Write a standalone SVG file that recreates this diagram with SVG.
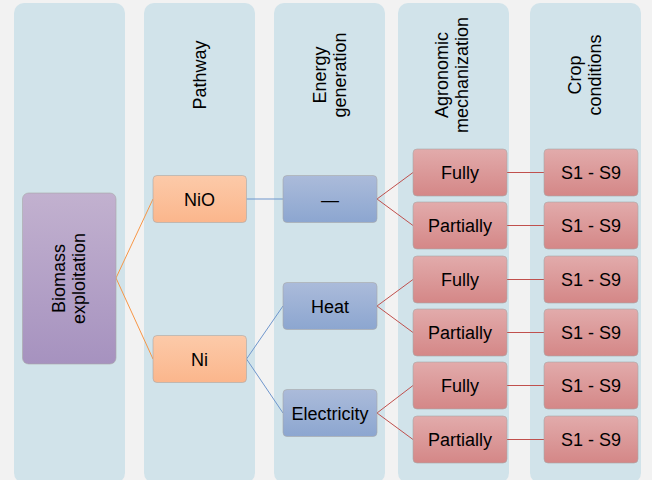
<svg xmlns="http://www.w3.org/2000/svg" width="652" height="480" viewBox="0 0 652 480">
<defs>
<linearGradient id="gP" x1="0" y1="0" x2="0" y2="1"><stop offset="0" stop-color="#c2b1cf"/><stop offset="1" stop-color="#a692bf"/></linearGradient>
<linearGradient id="gO" x1="0" y1="0" x2="0" y2="1"><stop offset="0" stop-color="#fccaa9"/><stop offset="1" stop-color="#fbb68c"/></linearGradient>
<linearGradient id="gB" x1="0" y1="0" x2="0" y2="1"><stop offset="0" stop-color="#abbbda"/><stop offset="1" stop-color="#8ca6d0"/></linearGradient>
<linearGradient id="gR" x1="0" y1="0" x2="0" y2="1"><stop offset="0" stop-color="#e2abab"/><stop offset="1" stop-color="#d48787"/></linearGradient>
</defs>
<style>
.col{fill:#d1e3ea}
.n{stroke:#a8a8a8;stroke-opacity:0.6;stroke-width:1}
.t{font-family:"Liberation Sans",Arial,sans-serif;font-size:18px;fill:#000;text-anchor:middle}
.co{stroke:#f79646;stroke-width:1;fill:none}
.cb{stroke:#6f96cc;stroke-width:1;fill:none}
.cr{stroke:#c0504d;stroke-width:1;fill:none}
</style>
<rect width="652" height="480" fill="#f2f2f2"/>
<g id="columns">
<rect class="col" x="14" y="3" width="111" height="480" rx="10"/>
<rect class="col" x="144" y="3" width="111" height="480" rx="10"/>
<rect class="col" x="274" y="3" width="111" height="480" rx="10"/>
<rect class="col" x="398" y="3" width="111" height="480" rx="10"/>
<rect class="col" x="530" y="3" width="111" height="480" rx="10"/>
</g>
<g id="headers">
<text class="t" transform="translate(206,75) rotate(-90)">Pathway</text>
<text class="t" transform="translate(326,75) rotate(-90)">Energy</text>
<text class="t" transform="translate(346,75) rotate(-90)">generation</text>
<text class="t" transform="translate(448,75) rotate(-90)">Agronomic</text>
<text class="t" transform="translate(468,75) rotate(-90)">mechanization</text>
<text class="t" transform="translate(581,75) rotate(-90)">Crop</text>
<text class="t" transform="translate(601,75) rotate(-90)">conditions</text>
</g>
<g id="connectors">
<path class="co" d="M116,278 L153,199 M116,278 L153,359"/>
<path class="cb" d="M246.5,199 L283,199 M246.5,359 L283,306 M246.5,359 L283,413"/>
<path class="cr" d="M377,199 L413,172.5 M377,199 L413,225.5 M377,306 L413,279.5 M377,306 L413,332.5 M377,413 L413,385.5 M377,413 L413,439.5"/>
<path class="cr" d="M507,172.5 L544,172.5 M507,225.5 L544,225.5 M507,279.5 L544,279.5 M507,332.5 L544,332.5 M507,385.5 L544,385.5 M507,439.5 L544,439.5"/>
</g>
<g id="biomass"><rect class="n" x="22.5" y="193" width="93.5" height="171" rx="6" fill="url(#gP)"/>
<text class="t" transform="translate(65,278.5) rotate(-90)">Biomass</text>
<text class="t" transform="translate(85,278.5) rotate(-90)">exploitation</text></g>
<g id="nio"><rect class="n" x="153" y="175.5" width="93.5" height="47" rx="4" fill="url(#gO)"/><text class="t" x="199.5" y="205.5">NiO</text></g>
<g id="ni"><rect class="n" x="153" y="335.5" width="93.5" height="47" rx="4" fill="url(#gO)"/><text class="t" x="199.5" y="365.5">Ni</text></g>
<g id="none"><rect class="n" x="283" y="175.5" width="94" height="47" rx="4" fill="url(#gB)"/><text class="t" x="330" y="205.5">—</text></g>
<g id="heat"><rect class="n" x="283" y="282.5" width="94" height="47" rx="4" fill="url(#gB)"/><text class="t" x="330" y="312.5">Heat</text></g>
<g id="electricity"><rect class="n" x="283" y="389.5" width="94" height="47" rx="4" fill="url(#gB)"/><text class="t" x="330" y="419.5">Electricity</text></g>
<g id="fully1"><rect class="n" x="413" y="149" width="94" height="47" rx="4" fill="url(#gR)"/><text class="t" x="460" y="179">Fully</text></g>
<g id="partially1"><rect class="n" x="413" y="202" width="94" height="47" rx="4" fill="url(#gR)"/><text class="t" x="460" y="232">Partially</text></g>
<g id="fully2"><rect class="n" x="413" y="256" width="94" height="47" rx="4" fill="url(#gR)"/><text class="t" x="460" y="286">Fully</text></g>
<g id="partially2"><rect class="n" x="413" y="309" width="94" height="47" rx="4" fill="url(#gR)"/><text class="t" x="460" y="339">Partially</text></g>
<g id="fully3"><rect class="n" x="413" y="362" width="94" height="47" rx="4" fill="url(#gR)"/><text class="t" x="460" y="392">Fully</text></g>
<g id="partially3"><rect class="n" x="413" y="416" width="94" height="47" rx="4" fill="url(#gR)"/><text class="t" x="460" y="446">Partially</text></g>
<g id="s1"><rect class="n" x="544" y="149" width="94" height="47" rx="4" fill="url(#gR)"/><text class="t" x="591" y="179">S1 - S9</text></g>
<g id="s2"><rect class="n" x="544" y="202" width="94" height="47" rx="4" fill="url(#gR)"/><text class="t" x="591" y="232">S1 - S9</text></g>
<g id="s3"><rect class="n" x="544" y="256" width="94" height="47" rx="4" fill="url(#gR)"/><text class="t" x="591" y="286">S1 - S9</text></g>
<g id="s4"><rect class="n" x="544" y="309" width="94" height="47" rx="4" fill="url(#gR)"/><text class="t" x="591" y="339">S1 - S9</text></g>
<g id="s5"><rect class="n" x="544" y="362" width="94" height="47" rx="4" fill="url(#gR)"/><text class="t" x="591" y="392">S1 - S9</text></g>
<g id="s6"><rect class="n" x="544" y="416" width="94" height="47" rx="4" fill="url(#gR)"/><text class="t" x="591" y="446">S1 - S9</text></g>
</svg>
